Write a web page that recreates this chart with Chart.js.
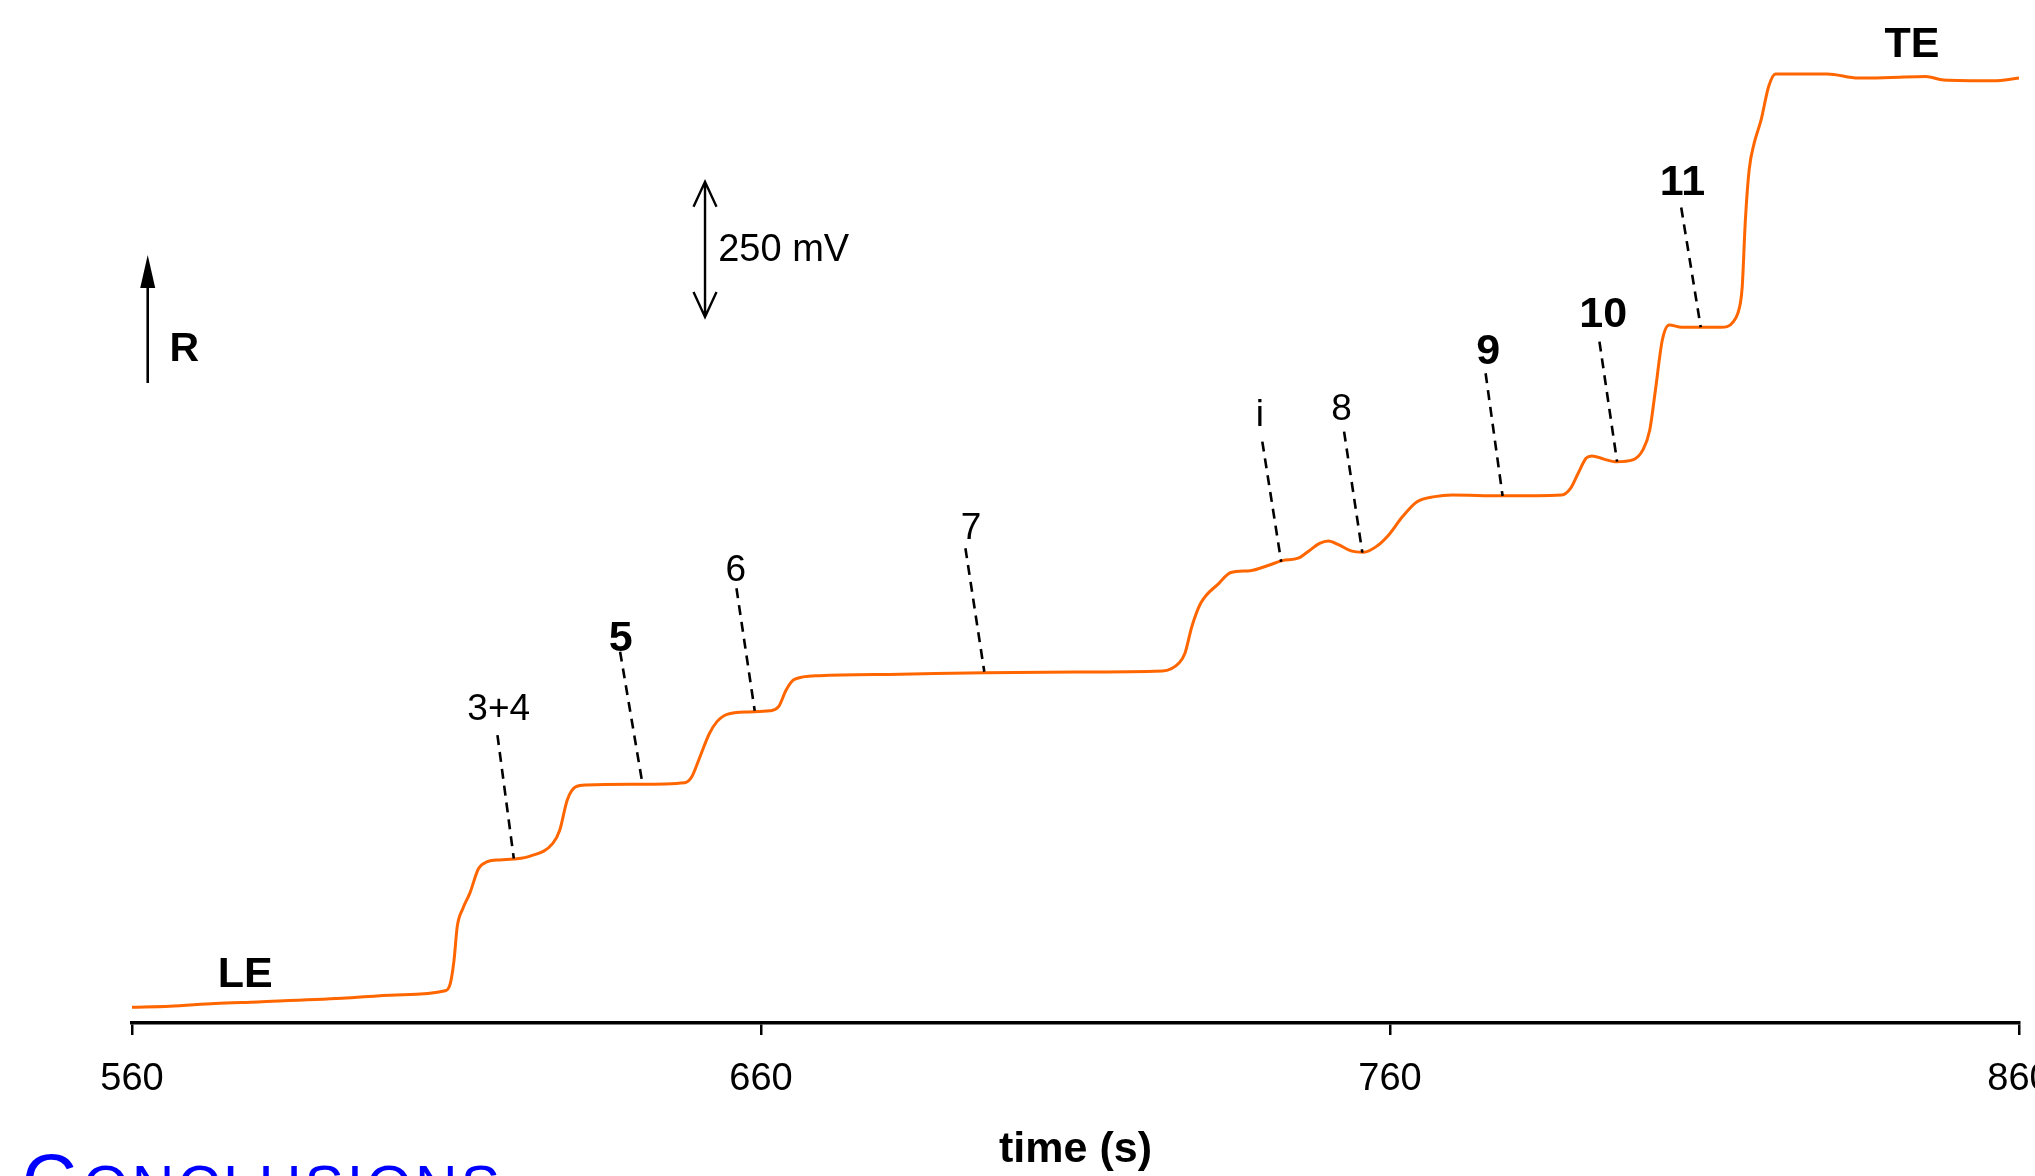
<!DOCTYPE html>
<html>
<head>
<meta charset="utf-8">
<script src="https://cdn.jsdelivr.net/npm/chart.js@4/dist/chart.umd.min.js"></script>
<style>
  html, body { margin: 0; padding: 0; background: #fff; }
  #wrap { width: 2035px; height: 1176px; position: relative; }
</style>
</head>
<body>
<div id="wrap"><canvas id="c"></canvas></div>
<script>
// ---- trace (time in s, signal in mV above the baseline) ----
const times = [560.0, 566, 573.2, 580, 593.4, 602, 609.8, 610.6, 611.2, 611.7, 612.6, 613.7, 615.1, 616.5, 618.5, 620.7,
  623.3, 626.9, 628.0, 629.2, 630.6, 632.3, 640, 647.9, 649.0, 650.1, 651.8, 653.0, 654.6, 658, 661.4, 662.8,
  664.0, 665.3, 669.3, 682.1, 695.6, 710, 723.8, 726.5, 727.4, 728.5, 729.9, 732.8, 734.7, 737.8, 740.6, 742.9,
  745.4, 747.1, 748.8, 750.2, 751.9, 753.8, 755.8, 757.8, 759.8, 762.0, 764.3, 767.1, 769.9, 777.7, 787.3, 788.7,
  789.8, 791.2, 792.1, 794.0, 796.0, 798.6, 800.2, 801.3, 802.2, 803.3, 804.4, 806.4, 812.6, 814.6, 815.7, 816.0,
  816.5, 817.1, 817.9, 819.0, 820.2, 821.3, 829.5, 834.5, 839.6, 845.2, 848.0, 855.9, 860.0];
const signal = [31, 33, 38, 41, 47.6, 54, 61.7, 75, 118.5, 180, 214, 242, 288, 300.6, 304, 305.6,
  311, 334.6, 359, 415, 439.5, 442.6, 444, 447, 458, 489, 538, 560, 573.5, 578, 580, 587.7,
  618.6, 638, 645, 647.6, 650.6, 652, 653.8, 669, 686.5, 736, 779, 816, 836, 839.5, 849, 858,
  862.5, 876, 890, 894.5, 887, 876, 873.6, 884, 905.6, 939.6, 967, 976.6, 979.7, 978, 979.7, 992,
  1017, 1048, 1052, 1046, 1041, 1044.5, 1063, 1100, 1174, 1267, 1294.5, 1290, 1290, 1300.7, 1334.7, 1365.5,
  1489, 1581.6, 1631, 1674, 1736, 1759, 1759, 1751.5, 1752.6, 1754.4, 1748, 1746.6, 1751.5];

// ---- axis ----
const xTicks = [560, 660, 760, 860];
const xTitle = 'time (s)';

// ---- peak labels ----
const labelTexts  = ['LE', '3+4', '5', '6', '7', 'i', '8', '9', '10', '11', 'TE'];
const labelTimes  = [578.0, 618.3, 637.7, 656.0, 693.4, 739.3, 752.3, 775.6, 793.9, 806.5, 843.0];
const labelValues = [97, 587, 720, 845, 922, 1132, 1143, 1251, 1319, 1563, 1819];
const labelBold   = [true, false, true, false, false, false, false, true, true, true, true];

// ---- dashed leader lines (label -> zone) ----
const leaderT0 = [618.1, 637.6, 656.1, 692.5, 739.7, 752.7, 775.2, 793.3, 806.3];
const leaderV0 = [535, 689.5, 806.9, 881, 1078.4, 1096.9, 1205, 1263.6, 1511.7];
const leaderT1 = [620.7, 641.1, 659.0, 695.5, 742.7, 755.6, 777.9, 796.1, 809.4];
const leaderV1 = [306.5, 448.7, 580.2, 652.4, 856.1, 872.8, 977.8, 1041.3, 1290.2];

// ---- R arrow and 250 mV scale bar ----
const rArrow = { t: 562.5, v0: 1187, v1: 1424, label: 'R', labelT: 568.3, labelV: 1255.6 };
const scaleBar = { t: 651.1, v0: 1309.3, span: 250, label: '250 mV', labelT: 653.2, labelV: 1438 };

const FONT = "'Liberation Sans', Arial, Helvetica, sans-serif";

const annotations = {
  id: 'annotations',
  afterDatasetsDraw(chart) {
    const ctx = chart.ctx;
    const xs = chart.scales.x, ys = chart.scales.y;
    const px = t => xs.getPixelForValue(t);
    const py = v => ys.getPixelForValue(v);
    ctx.save();
    // dashed leaders
    ctx.strokeStyle = '#000';
    ctx.lineWidth = 2.6;
    ctx.setLineDash([10, 7]);
    for (let i = 0; i < leaderT0.length; i++) {
      ctx.beginPath();
      ctx.moveTo(px(leaderT0[i]), py(leaderV0[i]));
      ctx.lineTo(px(leaderT1[i]), py(leaderV1[i]));
      ctx.stroke();
    }
    ctx.setLineDash([]);
    // labels
    ctx.fillStyle = '#000';
    ctx.textAlign = 'center';
    ctx.textBaseline = 'alphabetic';
    for (let i = 0; i < labelTexts.length; i++) {
      const size = labelBold[i] ? 43 : 37;
      ctx.font = (labelBold[i] ? 'bold ' : '') + size + 'px ' + FONT;
      ctx.fillText(labelTexts[i], px(labelTimes[i]), py(labelValues[i]) + 0.358 * size);
    }
    // R arrow (filled head)
    const rx = px(rArrow.t), ry0 = py(rArrow.v0), ry1 = py(rArrow.v1);
    ctx.lineWidth = 2.6;
    ctx.beginPath();
    ctx.moveTo(rx, ry0);
    ctx.lineTo(rx, ry1 + 30);
    ctx.stroke();
    ctx.beginPath();
    ctx.moveTo(rx, ry1);
    ctx.lineTo(rx - 7.5, ry1 + 33);
    ctx.lineTo(rx + 7.5, ry1 + 33);
    ctx.closePath();
    ctx.fill();
    ctx.font = 'bold 41px ' + FONT;
    ctx.fillText(rArrow.label, px(rArrow.labelT), py(rArrow.labelV) + 0.358 * 41);
    // 250 mV scale bar (open heads both ends)
    const sx = px(scaleBar.t), sy0 = py(scaleBar.v0), sy1 = py(scaleBar.v0 + scaleBar.span);
    ctx.lineWidth = 2.4;
    ctx.beginPath();
    ctx.moveTo(sx, sy0); ctx.lineTo(sx, sy1);
    ctx.moveTo(sx - 11.5, sy1 + 25); ctx.lineTo(sx, sy1); ctx.lineTo(sx + 11.5, sy1 + 25);
    ctx.moveTo(sx - 11.5, sy0 - 25); ctx.lineTo(sx, sy0); ctx.lineTo(sx + 11.5, sy0 - 25);
    ctx.stroke();
    ctx.textAlign = 'left';
    ctx.font = '38px ' + FONT;
    ctx.fillText(scaleBar.label, px(scaleBar.labelT), py(scaleBar.labelV) + 0.358 * 38);
    ctx.restore();
  },
  afterDraw(chart) {
    // slide heading peeking in at the bottom-left
    const ctx = chart.ctx;
    ctx.save();
    ctx.fillStyle = '#0000FF';
    ctx.textAlign = 'left';
    ctx.textBaseline = 'alphabetic';
    ctx.font = '76px ' + FONT;
    ctx.fillText('C', 22, 1207);
    const w = ctx.measureText('C').width;
    ctx.font = '59px ' + FONT;
    if ('letterSpacing' in ctx) ctx.letterSpacing = '3px';
    ctx.fillText('ONCLUSIONS', 22 + w + 6, 1207);
    ctx.restore();
  }
};

new Chart(document.getElementById('c'), {
  type: 'line',
  data: {
    datasets: [{
      data: times.map((t, i) => ({ x: t, y: signal[i] })),
      borderColor: '#FF6600',
      borderWidth: 3,
      pointRadius: 0,
      fill: false,
      cubicInterpolationMode: 'monotone'
    }]
  },
  options: {
    responsive: true,
    maintainAspectRatio: false,
    animation: false,
    layout: { padding: { left: 132, right: 16, top: 20, bottom: 0 } },
    plugins: { legend: { display: false }, tooltip: { enabled: false } },
    scales: {
      x: {
        type: 'linear',
        min: 560, max: 860,
        afterBuildTicks: s => { s.ticks = xTicks.map(v => ({ value: v })); },
        ticks: {
          color: '#000',
          font: { family: FONT, size: 38 },
          padding: 22,
          maxRotation: 0,
          autoSkip: false
        },
        grid: { display: true, drawOnChartArea: false, drawTicks: true, tickLength: 12, color: '#000', lineWidth: 2.5 },
        border: { display: true, color: '#000', width: 3.5 },
        title: {
          display: true, text: xTitle, color: '#000',
          font: { family: FONT, size: 43, weight: 'bold' },
          padding: { top: 0, bottom: 0 }
        },
        afterFit: s => { s.height = 153; s.paddingLeft = 0; s.paddingRight = 0; }
      },
      y: { display: false, min: 2, max: 1859 }
    }
  },
  plugins: [annotations]
});
</script>
</body>
</html>
